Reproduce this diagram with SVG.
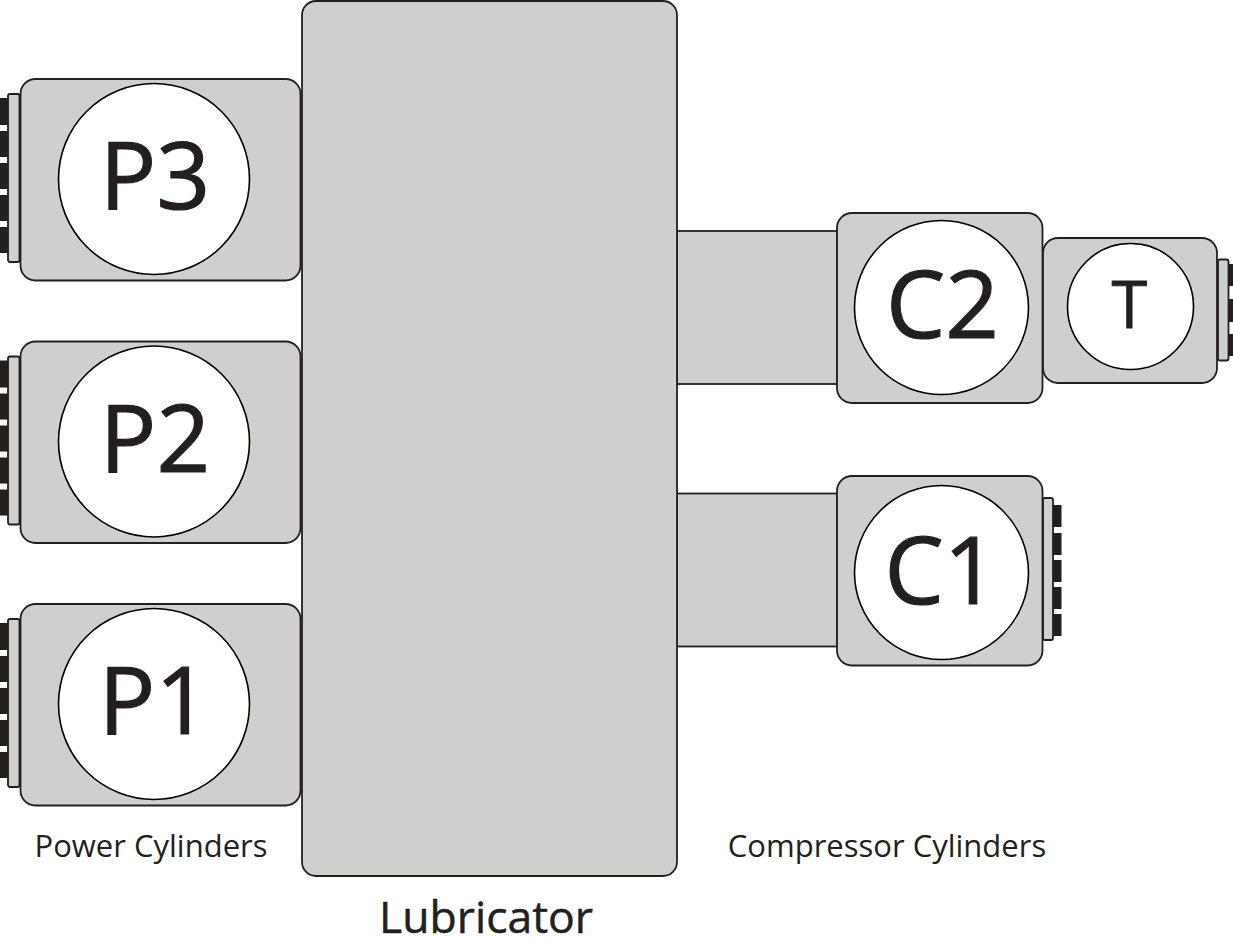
<svg xmlns="http://www.w3.org/2000/svg" width="1233" height="946" viewBox="0 0 1233 946">
<style>
.b{fill:#cfcfce;stroke:#231f20;stroke-width:1.8}
.c{fill:#fff;stroke:#000;stroke-width:1.6}
.k{fill:#231f20}
text{font-family:"Open Sans","Noto Sans","Liberation Sans",sans-serif;fill:#231f20;text-anchor:middle}
.big{font-size:94px;stroke:#231f20;stroke-width:1.2}
.sm{font-size:31px}
</style>
<defs>
<g id="tabsL">
<rect class="k" x="0" y="98" width="8" height="27"/>
<rect class="k" x="0" y="131" width="8" height="26"/>
<rect class="k" x="0" y="163" width="8" height="26"/>
<rect class="k" x="0" y="195" width="8" height="26"/>
<rect class="k" x="0" y="227" width="8" height="26"/>
<rect class="b" x="8" y="94" width="11.5" height="168" rx="2"/>
</g>
</defs>
<g id="connectors">
<rect class="b" x="677" y="231" width="160" height="153"/>
<rect class="b" x="677" y="493.500" width="160" height="153"/>
</g>
<g id="lubricator">
<rect class="b" x="302" y="1" width="375" height="875" rx="14"/>
<text x="486" y="933" font-size="44.500" stroke="#231f20" stroke-width="0.5">Lubricator</text>
</g>
<g id="p3">
<use href="#tabsL"/>
<rect class="b" x="20.500" y="79" width="280" height="201.500" rx="15"/>
<circle class="c" cx="154" cy="179" r="95.500"/>
<text class="big" x="155" y="209">P3</text>
</g>
<g id="p2">
<use href="#tabsL" y="262.500"/>
<rect class="b" x="20.500" y="341.500" width="280" height="201.500" rx="15"/>
<circle class="c" cx="154" cy="441.500" r="95.500"/>
<text class="big" x="155" y="471.500">P2</text>
</g>
<g id="p1">
<use href="#tabsL" y="525"/>
<rect class="b" x="20.500" y="604" width="280" height="201.500" rx="15"/>
<circle class="c" cx="154" cy="704" r="95.500"/>
<text class="big" x="154" y="734">P1</text>
</g>
<g id="c2">
<rect class="b" x="837" y="213" width="205.500" height="190" rx="15"/>
<circle class="c" cx="941.500" cy="307.500" r="87"/>
<text class="big" x="942.500" y="338">C2</text>
</g>
<g id="t">
<rect class="k" x="1228" y="264" width="5" height="22"/>
<rect class="k" x="1228" y="299" width="5" height="23"/>
<rect class="k" x="1228" y="334" width="5" height="22"/>
<rect class="b" x="1218" y="259.500" width="10.500" height="101" rx="2"/>
<rect class="b" x="1043" y="238" width="174" height="145" rx="15"/>
<circle class="c" cx="1130.500" cy="306.500" r="63"/>
<text x="1129.500" y="328" font-size="65" stroke="#231f20" stroke-width="0.8">T</text>
</g>
<g id="c1">
<rect class="k" x="1053" y="505" width="8.500" height="22"/>
<rect class="k" x="1053" y="533" width="8.500" height="22"/>
<rect class="k" x="1053" y="560" width="8.500" height="22"/>
<rect class="k" x="1053" y="587" width="8.500" height="22"/>
<rect class="k" x="1053" y="614" width="8.500" height="22"/>
<rect class="b" x="1043" y="498" width="10" height="142" rx="2"/>
<rect class="b" x="837" y="476" width="205.500" height="189.500" rx="15"/>
<circle class="c" cx="941.500" cy="572.500" r="87"/>
<text class="big" x="941" y="604">C1</text>
</g>
<text class="sm" x="151" y="857">Power Cylinders</text>
<text class="sm" x="887" y="857">Compressor Cylinders</text>
</svg>
